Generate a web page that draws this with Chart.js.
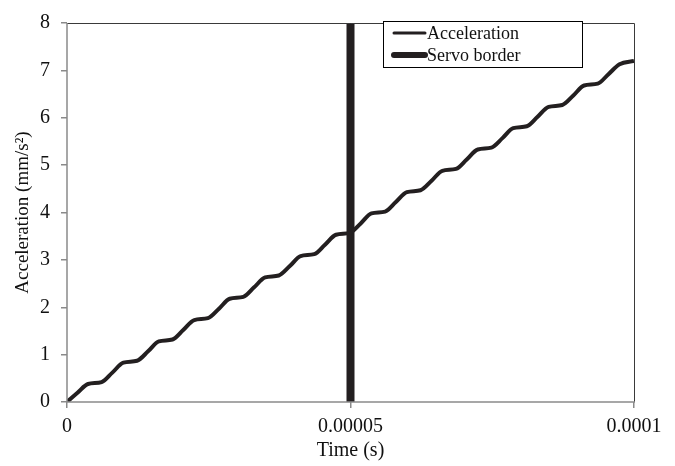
<!DOCTYPE html>
<html>
<head>
<meta charset="utf-8">
<script src="https://cdn.jsdelivr.net/npm/chart.js@4/dist/chart.umd.min.js"></script>
<style>
  html, body { margin: 0; padding: 0; background: #fff; }
  #wrap { width: 675px; height: 466px; }
</style>
</head>
<body>
<div id="wrap"><canvas id="c" width="675" height="466"></canvas></div>
<script>
// Acceleration samples: time in microseconds, acceleration in mm/s²
const timeUs = [
  0, 1.9,
  3.7, 6.1, 8.0,
  9.95, 12.35, 14.3,
  16.2, 18.6, 20.5,
  22.45, 24.85, 26.8,
  28.7, 31.1, 33.0,
  34.95, 37.35, 39.3,
  41.2, 43.6, 45.5,
  47.45, 49.85, 51.8,
  53.7, 56.1, 58.0,
  59.95, 62.35, 64.3,
  66.2, 68.6, 70.5,
  72.45, 74.85, 76.8,
  78.7, 81.1, 83.0,
  84.95, 87.35, 89.3,
  91.2, 93.6, 95.5,
  97.45, 100
];
const accel = [
  0, 0.20,
  0.38, 0.42, 0.62,
  0.83, 0.87, 1.07,
  1.28, 1.32, 1.52,
  1.73, 1.77, 1.97,
  2.18, 2.22, 2.42,
  2.63, 2.67, 2.87,
  3.08, 3.12, 3.32,
  3.53, 3.57, 3.77,
  3.98, 4.02, 4.22,
  4.43, 4.47, 4.67,
  4.88, 4.92, 5.12,
  5.33, 5.37, 5.57,
  5.78, 5.82, 6.02,
  6.23, 6.27, 6.47,
  6.68, 6.72, 6.92,
  7.13, 7.20
];

// Servo border: vertical marker at 50 µs spanning the full y range
const servoTimeUs = [50, 50];
const servoAccel = [0, 8];

// Axis ticks
const xTickValues = [0, 0.00005, 0.0001];
const xTickLabels = ['0', '0.00005', '0.0001'];
const yTickValues = [0, 1, 2, 3, 4, 5, 6, 7, 8];

const seriesNames = ['Acceleration', 'Servo border'];

const ink = '#231f20';
const axisGray = '#8a8a8a';
const serif = '"Liberation Serif", "Times New Roman", serif';

const toPoints = (ts, ys) => ts.map((t, i) => ({ x: t * 1e-6, y: ys[i] }));

// Frame: grey left/bottom axes, dark top/right border
const framePlugin = {
  id: 'frame',
  afterDatasetsDraw(chart) {
    const { ctx, chartArea: a } = chart;
    ctx.save();
    ctx.lineWidth = 1;
    ctx.strokeStyle = '#3a3a3a';
    ctx.beginPath();
    ctx.moveTo(a.left, a.top + 0.5);
    ctx.lineTo(a.right + 0.5, a.top + 0.5);
    ctx.lineTo(a.right + 0.5, a.bottom);
    ctx.stroke();
    ctx.lineWidth = 1.5;
    ctx.strokeStyle = axisGray;
    ctx.beginPath();
    ctx.moveTo(a.left, a.top);
    ctx.lineTo(a.left, a.bottom);
    ctx.lineTo(a.right + 1, a.bottom);
    ctx.stroke();
    ctx.restore();
  }
};

// Boxed legend inside the plot, top right
const boxLegendPlugin = {
  id: 'boxLegend',
  afterDraw(chart) {
    const { ctx } = chart;
    const x0 = 383, y0 = 21, w = 199, h = 46;
    ctx.save();
    ctx.fillStyle = '#fff';
    ctx.fillRect(x0, y0, w, h);
    ctx.strokeStyle = '#000';
    ctx.lineWidth = 1;
    ctx.strokeRect(x0 + 0.5, y0 + 0.5, w, h);
    chart.data.datasets.forEach((ds, i) => {
      const yy = y0 + 12 + i * 22;
      ctx.strokeStyle = ds.borderColor;
      ctx.lineWidth = i === 0 ? 3 : 6;
      ctx.lineCap = 'round';
      ctx.beginPath();
      ctx.moveTo(x0 + 11, yy);
      ctx.lineTo(x0 + 42, yy);
      ctx.stroke();
      ctx.fillStyle = '#111';
      ctx.font = '18px ' + serif;
      ctx.textBaseline = 'middle';
      ctx.textAlign = 'left';
      ctx.fillText(ds.label, x0 + 44, yy + 1);
    });
    ctx.restore();
  }
};

new Chart(document.getElementById('c'), {
  type: 'line',
  data: {
    datasets: [
      {
        label: seriesNames[0],
        data: toPoints(timeUs, accel),
        borderColor: ink,
        borderWidth: 4,
        pointRadius: 0,
        cubicInterpolationMode: 'monotone',
        fill: false
      },
      {
        label: seriesNames[1],
        data: toPoints(servoTimeUs, servoAccel),
        borderColor: ink,
        borderWidth: 8,
        pointRadius: 0,
        fill: false
      }
    ]
  },
  options: {
    responsive: false,
    animation: false,
    layout: { padding: { left: 0, right: 41, top: 17, bottom: 0 } },
    plugins: {
      legend: { display: false },
      tooltip: { enabled: false }
    },
    scales: {
      x: {
        type: 'linear',
        min: 0,
        max: 0.0001,
        afterBuildTicks(scale) {
          scale.ticks = xTickValues.map(v => ({ value: v }));
        },
        afterFit(scale) { scale.height = 64; },
        ticks: {
          autoSkip: false,
          maxRotation: 0,
          padding: 7,
          color: '#111',
          font: { family: serif, size: 20 },
          callback: (v, i) => xTickLabels[i]
        },
        grid: {
          drawOnChartArea: false,
          drawTicks: true,
          tickLength: 6,
          color: axisGray,
          lineWidth: 1.5
        },
        border: { display: false },
        title: {
          display: true,
          text: 'Time (s)',
          color: '#111',
          font: { family: serif, size: 20 },
          padding: { top: 0, bottom: 3 }
        }
      },
      y: {
        type: 'linear',
        min: 0,
        max: 8,
        afterBuildTicks(scale) {
          scale.ticks = yTickValues.map(v => ({ value: v }));
        },
        afterFit(scale) { scale.width = 67; },
        ticks: {
          padding: 11,
          color: '#111',
          font: { family: serif, size: 20 }
        },
        grid: {
          drawOnChartArea: false,
          drawTicks: true,
          tickLength: 6,
          color: axisGray,
          lineWidth: 1.5
        },
        border: { display: false },
        title: {
          display: true,
          text: 'Acceleration (mm/s²)',
          color: '#111',
          font: { family: serif, size: 19 },
          padding: { top: 12, bottom: 0 }
        }
      }
    }
  },
  plugins: [framePlugin, boxLegendPlugin]
});
</script>
</body>
</html>
